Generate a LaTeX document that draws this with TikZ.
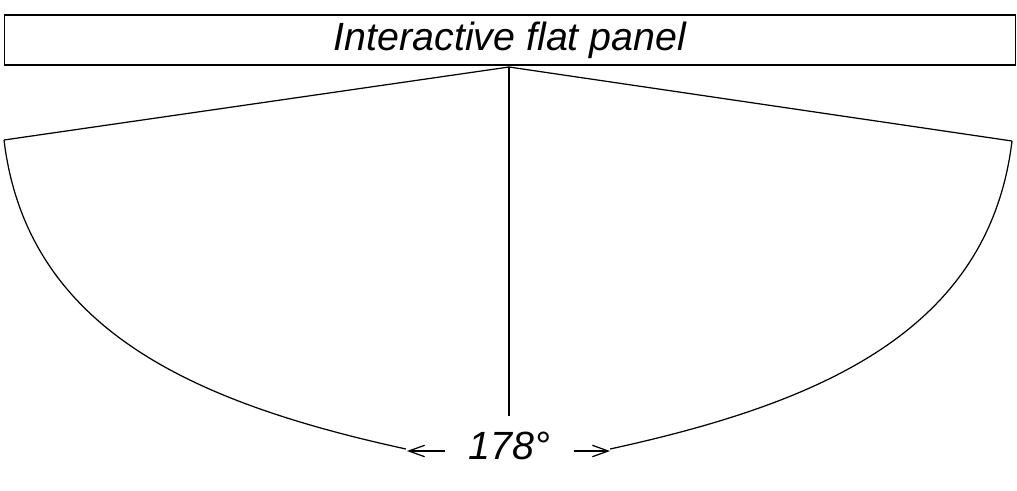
\documentclass[tikz,border=0pt]{standalone}
\usepackage{fontspec}
\setmainfont{Liberation Sans}
\usetikzlibrary{arrows.meta}

\begin{document}
\begin{tikzpicture}[x=0.02cm,y=-0.02cm,line width=0.7pt]
\useasboundingbox (0,0) rectangle (1017,490);
\begin{scope}[every node/.style={font=\fontsize{22.4}{26}\selectfont\itshape}]
    \node[draw,line width=0.6pt,minimum width=20.22cm,minimum height=1cm,inner sep=0pt] (P) at (510,40) {Interactive flat panel};
    \node[inner xsep=13pt,inner ysep=0pt] (A) at (509.5,446) {178°};
\end{scope}
\coordinate (O) at (509,67);
\coordinate (L) at (4,140);
\coordinate (R) at (1012,141);
\coordinate (V) at (509,416);
\coordinate (LE) at (406,449);
\coordinate (RE) at (610,449);
\coordinate (LA) at (407,451);
\coordinate (RA) at (610,451);
\draw (O) -- (L);
\draw (O) -- (R);
\draw (O) -- (V);
\draw (L) .. controls +(23,190) and +(-211,-46) .. (LE);
\draw (R) .. controls +(-23,190) and +(211,-46) .. (RE);
\begin{scope}[>={Straight Barb[length=9pt,width=6.5pt]}]
    \draw[->] (A.west |- LA) -- (LA);
    \draw[->] (A.east |- RA) -- (RA);
\end{scope}
\end{tikzpicture}
\end{document}
